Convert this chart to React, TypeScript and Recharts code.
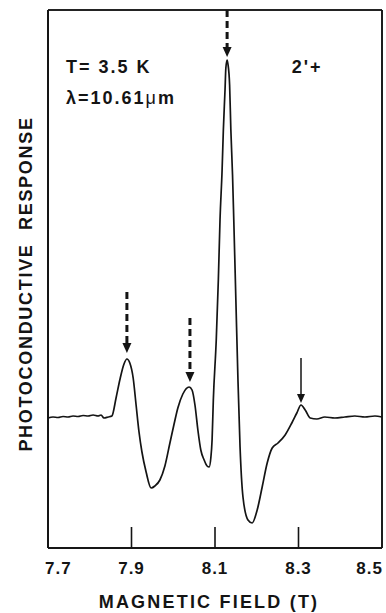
import {
  CartesianGrid,
  Line,
  LineChart,
  ReferenceDot,
  ReferenceLine,
  XAxis,
  YAxis,
} from "recharts";

const FONT = "'Liberation Sans', Arial, Helvetica, sans-serif";
const INK = "#141414";

// magnetic field (T)
const FIELD = [
  7.7, 7.712, 7.724, 7.736, 7.748, 7.76, 7.772, 7.784, 7.796, 7.808, 7.82, 7.827,
  7.834, 7.844, 7.853, 7.863, 7.872, 7.882, 7.889, 7.896, 7.904, 7.911, 7.918,
  7.925, 7.935, 7.947, 7.956, 7.968, 7.98, 7.992, 8.002, 8.011, 8.023, 8.038,
  8.045, 8.052, 8.059, 8.066, 8.074, 8.081, 8.086, 8.09, 8.093, 8.096, 8.103,
  8.108, 8.112, 8.117, 8.12, 8.124, 8.126, 8.129, 8.131, 8.135, 8.138, 8.142,
  8.145, 8.15, 8.155, 8.16, 8.167, 8.179, 8.189, 8.201, 8.213, 8.225, 8.237,
  8.251, 8.268, 8.284, 8.296, 8.306, 8.316, 8.328, 8.344, 8.363, 8.387, 8.411,
  8.435, 8.459, 8.483, 8.5,
];

// photoconductive response (arb. units, baseline = 0)
const RESPONSE = [
  -1, 0, -0.5, 0.5, 0, 1, 0.5, 1.5, 1, 2, 1, 2,
  -1, 0, 1, 19, 37, 53, 58, 54, 39, 12, -15,
  -35, -55, -71, -69, -63, -49, -26, -7, 9, 23, 30,
  27, 12, -13, -33, -43, -49, -50, -41, -23, 17, 77,
  137, 197, 247, 287, 327, 349, 357, 353, 332, 287, 242,
  197, 117, 37, -30, -80, -103, -106, -93, -70, -46, -31,
  -26, -18, -6, 4, 12, 7, -1, -2, 0, -1, 0,
  1, 0, 1, 0,
];

const FIELD_TICKS = [7.7, 7.9, 8.1, 8.3, 8.5];
const FIELD_DOMAIN = [7.7, 8.5];
const RESPONSE_DOMAIN = [-131, 407];

// arrows marking the transitions
const ARROW_FIELD = [7.889, 8.04, 8.129, 8.306];
const ARROW_FROM = [125, 99, 407, 59];
const ARROW_TO = [64, 35, 360, 14];
const ARROW_DASHED = [true, true, true, false];

const data = FIELD.map((b, i) => ({ field: b, response: RESPONSE[i] }));

function FieldTick(props: any) {
  const { x, y, payload } = props;
  const v = payload.value as number;
  const first = v === FIELD_TICKS[0];
  const last = v === FIELD_TICKS[FIELD_TICKS.length - 1];
  return (
    <g>
      {!first && !last && (
        <line x1={x} x2={x} y1={y} y2={y - 21} stroke={INK} strokeWidth={1.6} />
      )}
      <text
        x={first ? x - 3 : last ? x + 1 : x}
        y={y + 26}
        textAnchor={first ? "start" : last ? "end" : "middle"}
        fontFamily={FONT}
        fontWeight="bold"
        fontSize={17}
        letterSpacing={1}
        fill={INK}
      >
        {v.toFixed(1)}
      </text>
    </g>
  );
}

function arrowShape(dashed: boolean) {
  return (p: any) => {
    const head = dashed ? 10 : 9;
    const half = dashed ? 4.5 : 4;
    const x = p.x1;
    return (
      <g>
        <line
          x1={x}
          x2={x}
          y1={p.y1}
          y2={p.y2 - head + 1}
          stroke={INK}
          strokeWidth={dashed ? 3 : 1.5}
          strokeDasharray={dashed ? "7 4" : undefined}
        />
        <polygon
          points={`${x - half},${p.y2 - head} ${x + half},${p.y2 - head} ${x},${p.y2}`}
          fill={INK}
        />
      </g>
    );
  };
}

function note(content: any) {
  return (p: any) => (
    <text
      x={p.cx}
      y={p.cy}
      fontFamily={FONT}
      fontWeight="bold"
      fontSize={18}
      letterSpacing={2}
      fill={INK}
    >
      {content}
    </text>
  );
}

const frame = { stroke: INK, strokeWidth: 1.6 };

export default function App() {
  return (
    <div style={{ position: "absolute", left: 0, top: 0, background: "#fff" }}>
      <LineChart
        width={386}
        height={613}
        data={data}
        margin={{ top: 10, right: 4, left: 0, bottom: 0 }}
      >
        {/* frame: grid lines only on the plot edges */}
        <CartesianGrid
          stroke={INK}
          strokeWidth={1.6}
          strokeDasharray="0"
          horizontalCoordinatesGenerator={({ offset }: any) => [
            offset.top,
            offset.top + offset.height,
          ]}
          verticalCoordinatesGenerator={({ offset }: any) => [
            offset.left,
            offset.left + offset.width,
          ]}
        />
        <XAxis
          dataKey="field"
          type="number"
          domain={FIELD_DOMAIN}
          ticks={FIELD_TICKS}
          interval={0}
          height={65}
          tickSize={0}
          tickMargin={0}
          axisLine={frame}
          tick={<FieldTick />}
          label={{
            content: (p: any) => (
              <text
                x={p.viewBox.x + p.viewBox.width / 2 - 6}
                y={p.viewBox.y + 60}
                textAnchor="middle"
                fontFamily={FONT}
                fontWeight="bold"
                fontSize={18}
                letterSpacing={2.2}
                fill={INK}
              >
                MAGNETIC FIELD (T)
              </text>
            ),
          }}
        />
        <YAxis
          type="number"
          domain={RESPONSE_DOMAIN}
          width={48}
          tick={false}
          tickLine={false}
          axisLine={frame}
          label={{
            content: (p: any) => {
              const cx = p.viewBox.x + 26;
              const cy = p.viewBox.y + p.viewBox.height / 2 + 5;
              return (
                <text
                  x={cx}
                  y={cy}
                  transform={`rotate(-90 ${cx} ${cy})`}
                  textAnchor="middle"
                  dominantBaseline="central"
                  fontFamily={FONT}
                  fontWeight="bold"
                  fontSize={18}
                  letterSpacing={1.7}
                  fill={INK}
                  style={{ whiteSpace: "pre" }}
                >
                  {"PHOTOCONDUCTIVE  RESPONSE"}
                </text>
              );
            },
          }}
        />
        <ReferenceLine x={7.7} {...frame} ifOverflow="visible" />
        <ReferenceLine x={8.5} {...frame} ifOverflow="visible" />
        <ReferenceLine y={407} {...frame} ifOverflow="visible" />
        <ReferenceLine y={-131} {...frame} ifOverflow="visible" />
        <Line
          type="monotone"
          dataKey="response"
          stroke={INK}
          strokeWidth={1.7}
          dot={false}
          isAnimationActive={false}
        />
        {ARROW_FIELD.map((b, i) => (
          <ReferenceLine
            key={i}
            segment={[
              { x: b, y: ARROW_FROM[i] },
              { x: b, y: ARROW_TO[i] },
            ]}
            ifOverflow="visible"
            shape={arrowShape(ARROW_DASHED[i])}
          />
        ))}
        <ReferenceDot x={7.743} y={344} ifOverflow="visible" shape={note("T= 3.5 K")} />
        <ReferenceDot
          x={7.743}
          y={313}
          ifOverflow="visible"
          shape={note(
            <>
              λ=10.61<tspan fontWeight="normal">μ</tspan>m
            </>
          )}
        />
        <ReferenceDot x={8.284} y={344} ifOverflow="visible" shape={note("2'+")} />
      </LineChart>
    </div>
  );
}
